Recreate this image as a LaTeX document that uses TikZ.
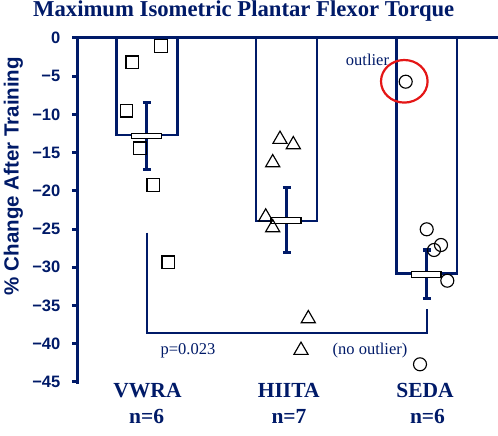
\documentclass[tikz,border=0pt]{standalone}
\usepackage{fontspec}
\setmainfont{Liberation Serif}
\setsansfont{Liberation Sans}
\usetikzlibrary{shapes.geometric}
\definecolor{navy}{RGB}{0,26,104}
\definecolor{outred}{RGB}{228,22,22}
\tikzset{
  axisline/.style={draw=navy, line width=3pt},
  barline/.style={draw=navy, line width=2.4pt},
  errline/.style={draw=navy, line width=3.3pt},
  meanbox/.style={draw=black, fill=white, line width=1.1pt},
  sqmark/.style={draw=black, line width=1.15pt, rectangle, minimum size=12.6pt, inner sep=0pt},
  trimark/.style={draw=black, line width=1.15pt, regular polygon, regular polygon sides=3, minimum size=16.4pt, inner sep=0pt, yshift=-2pt},
  cimark/.style={draw=black, line width=1.15pt},
  ticklab/.style={font=\sffamily\bfseries\fontsize{16.5}{17}\selectfont, text=navy, anchor=east, inner sep=0pt},
  grouplab/.style={font=\bfseries\fontsize{21.5}{22}\selectfont, text=navy, anchor=base, inner sep=0pt},
  note/.style={font=\fontsize{16.5}{17}\selectfont, text=navy, anchor=base, inner sep=0pt}
}
\begin{document}
\begin{tikzpicture}[x=1pt,y=-1pt]
\useasboundingbox (0,0) rectangle (498,436);
% title
\node[font=\bfseries\fontsize{22.7}{23}\selectfont, text=navy, anchor=base, inner sep=0pt] (title) at (243.7,16.7) {Maximum Isometric Plantar Flexor Torque};
% y-axis label
\node[font=\sffamily\bfseries\fontsize{20.5}{21}\selectfont, text=navy, rotate=90, anchor=base, inner sep=0pt] (ylab) at (18.5,176) {\% Change After Training};
% bars
\draw[barline] (116.5,38) -- (116.5,135) -- (177.5,135) -- (177.5,38);
\draw[barline] (256,38) -- (256,221) -- (317,221) -- (317,38);
\draw[barline] (396.5,38) -- (396.5,273.5) -- (457,273.5) -- (457,38);
% axes
\draw[axisline] (72,38) -- (498,38);
\draw[axisline] (77,38) -- (77,383.5);
\foreach \v [evaluate=\v as \yy using {38-\v*7.644}] in {0,-5,-10,-15,-20,-25,-30,-35,-40,-45} {
  \draw[axisline] (72,\yy) -- (77,\yy);
}
\foreach \v/\t [evaluate=\v as \yy using {38-\v*7.644}] in {0/0,-5/−5,-10/−10,-15/−15,-20/−20,-25/−25,-30/−30,-35/−35,-40/−40,-45/−45} {
  \node[ticklab] (tick\v) at (60.5,\yy) {\t};
}
% bracket
\coordinate (b1) at (146.7,232.7);
\coordinate (b2) at (146.7,333.3);
\coordinate (b3) at (426.7,333.3);
\coordinate (b4) at (426.7,309.3);
\draw[draw=navy, line width=2pt] (b1) -- (b2) -- (b3) -- (b4);
% error bars
\foreach \x/\a/\b in {146.7/102.7/169.3, 286.7/187.7/252.3, 426.7/250/298.3} {
  \draw[errline] (\x,\a) -- (\x,\b);
  \draw[errline] (\x-3.8,\a) -- (\x+3.8,\a);
  \draw[errline] (\x-3.8,\b) -- (\x+3.8,\b);
}
% means
\draw[meanbox] (131.7,133.3) rectangle (161.7,138.8);
\draw[meanbox] (271,217.7) rectangle (301,223.3);
\draw[meanbox] (411.7,271.7) rectangle (441,277.3);
% VWRA squares
\foreach \x/\y [count=\i] in {161/46, 132.3/62.3, 126.5/110.7, 140/148.3, 153.3/185, 168.3/262.3} {
  \node[sqmark] (v\i) at (\x,\y) {};
}
% HIITA triangles
\foreach \x/\y [count=\i] in {280/137.3, 293.3/142.7, 272.7/160.7, 265.7/215, 272.7/225.7, 308.3/316.7, 301/348.3} {
  \node[trimark] (h\i) at (\x,\y) {};
}
% SEDA circles
\foreach \x/\y in {405.7/81.7, 426.7/229.3, 441/245, 434/250, 447.3/280.7, 420/364.3} {
  \draw[cimark] (\x,\y) circle[radius=6.5];
}
% outlier ring
\draw[draw=outred, line width=2.2pt] (404.3,81.3) ellipse[x radius=23.3, y radius=21.3];
% notes
\node[note] (outl) at (367.5,65.5) {outlier};
\node[note] (pval) at (188,354) {p=0.023};
\node[note] (noout) at (370,354) {(no outlier)};
% group labels
\node[grouplab] (g1) at (147.5,397) {VWRA};
\node[grouplab] (g2) at (288.7,397) {HIITA};
\node[grouplab] (g3) at (425,397) {SEDA};
\node[grouplab] (n1) at (146.7,423.5) {n=6};
\node[grouplab] (n2) at (289,423.5) {n=7};
\node[grouplab] (n3) at (427.5,423.5) {n=6};
\end{tikzpicture}
\end{document}
